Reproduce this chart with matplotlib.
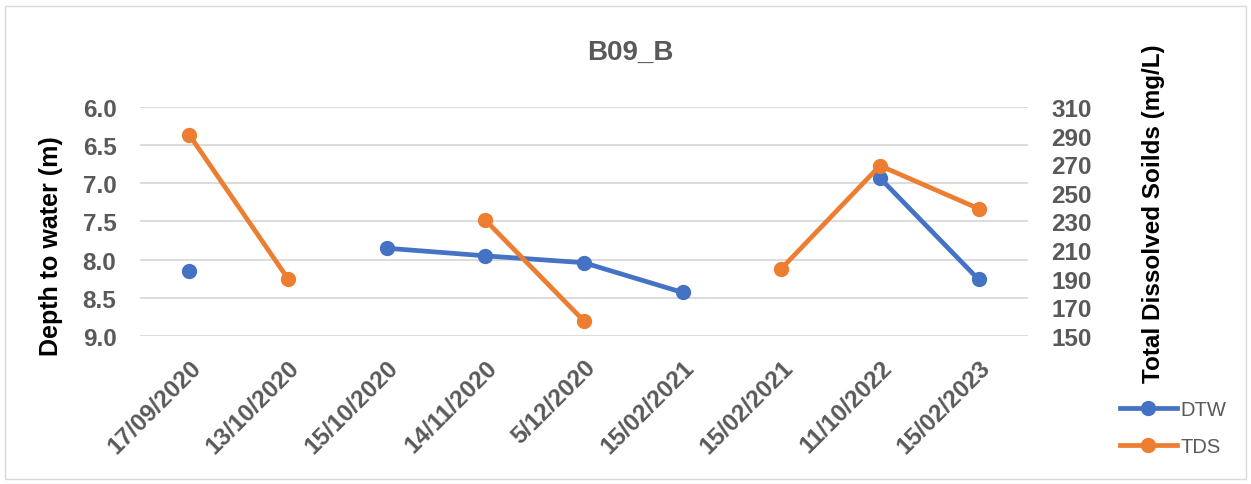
import numpy as np
import matplotlib
matplotlib.use("Agg")
import matplotlib.pyplot as plt
from matplotlib.patches import Rectangle

plt.rcParams['font.family'] = ['Liberation Sans', 'DejaVu Sans']

dates = ["17/09/2020", "13/10/2020", "15/10/2020", "14/11/2020", "5/12/2020",
         "15/02/2021", "15/02/2021", "11/10/2022", "15/02/2023"]
dtw = [8.15, np.nan, 7.85, 7.95, 8.04, 8.43, np.nan, 6.93, 8.26]
tds = [290.5, 190, np.nan, 231, 160.5, np.nan, 197, 269, 239]

blue = "#4472C4"
orange = "#ED7D31"
grey = "#595959"

fig = plt.figure(figsize=(12.51, 4.85), dpi=100)
ax = fig.add_axes([0.1119, 0.3052, 0.7098, 0.4721])
ax2 = ax.twinx()

x = np.arange(len(dates))
l1, = ax.plot(x, dtw, color=blue, lw=3.4, marker="o", ms=10, label="DTW", zorder=3)
l2, = ax2.plot(x, tds, color=orange, lw=3.4, marker="o", ms=10, label="TDS", zorder=3)

ax.set_xlim(-0.5, len(dates) - 0.5)
ax.set_ylim(9.0, 6.0)
ax.set_yticks(np.arange(6.0, 9.01, 0.5))
ax.set_yticklabels([f"{v:.1f}" for v in np.arange(6.0, 9.01, 0.5)])
ax2.set_ylim(150, 310)
ax2.set_yticks(np.arange(150, 311, 20))

ax.grid(axis="y", color="#D9D9D9", lw=1.3)
ax.set_axisbelow(True)
for a in (ax, ax2):
    for s in a.spines.values():
        s.set_visible(False)
    a.tick_params(length=0, labelsize=17.5, labelcolor=grey, pad=17)
    for t in a.get_yticklabels():
        t.set_fontweight("bold")

ax.set_xticks(x)
ax.set_xticklabels(dates, rotation=45, ha="right", rotation_mode="anchor",
                   fontweight="bold", color=grey, fontsize=17.5)
ax.tick_params(axis="x", pad=14)

ax.set_ylabel("Depth to water (m)", fontsize=18, fontweight="bold")
ax.yaxis.set_label_coords(-0.087, 0.397)
ax2.set_ylabel("Total Dissolved Soilds (mg/L)", fontsize=17.5, fontweight="bold")
ax2.yaxis.set_label_coords(1.128, 0.539)

fig.text(0.504, 0.891, "B09_B", ha="center", va="center", fontsize=20,
         fontweight="bold", color=grey)

fig.legend(handles=[l1, l2], loc="center", bbox_to_anchor=(0.938, 0.115),
           frameon=False, fontsize=14.5, labelcolor=grey, labelspacing=0.9,
           handlelength=2.8, handletextpad=0.2)

fig.patches.append(Rectangle((0.004, 0.01), 0.992, 0.975, transform=fig.transFigure,
                             fill=False, edgecolor="#D9D9D9", lw=1))

fig.savefig("out.png", dpi=100)
